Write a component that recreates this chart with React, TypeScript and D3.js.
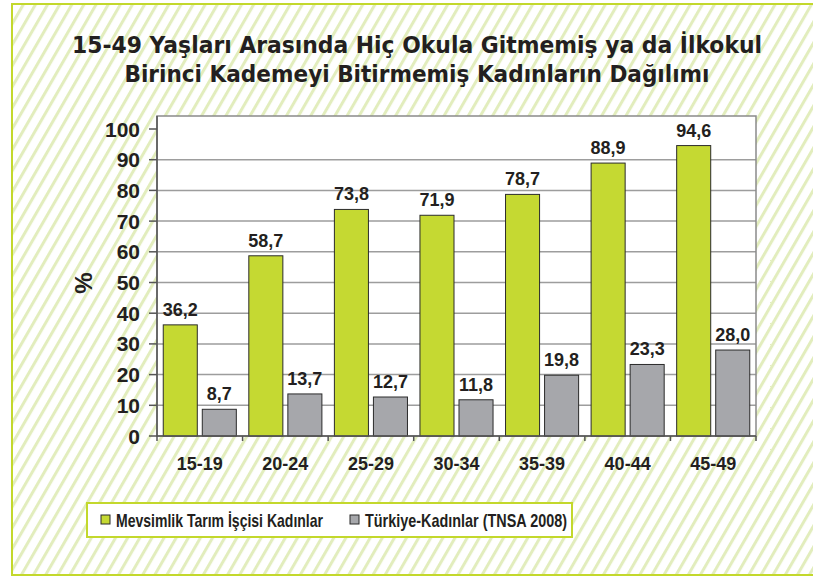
import React from 'react';
import * as d3 from 'd3';

const categories = ['15-19', '20-24', '25-29', '30-34', '35-39', '40-44', '45-49'];
const seriesNames = ['Mevsimlik Tarım İşçisi Kadınlar', 'Türkiye-Kadınlar (TNSA 2008)'];
const mevsimlik = [36.2, 58.7, 73.8, 71.9, 78.7, 88.9, 94.6];
const turkiye = [8.7, 13.7, 12.7, 11.8, 19.8, 23.3, 28.0];
const yTicks = [0, 10, 20, 30, 40, 50, 60, 70, 80, 90, 100];
const titleLines = [
  '15-49 Yaşları Arasında Hiç Okula Gitmemiş ya da İlkokul',
  'Birinci Kademeyi Bitirmemiş Kadınların Dağılımı',
];

const W = 813;
const H = 579;
const plot = { left: 157, right: 756, top: 116, bottom: 436 };
const colors = ['#c5d932', '#a6a7ab'];
const arial = '"Liberation Sans", Arial, sans-serif';

const fmt = (v: number) => v.toFixed(1).replace('.', ',');

export default function App() {
  const x = d3.scaleBand().domain(categories).range([plot.left, plot.right]).padding(0);
  const inner = d3
    .scaleBand()
    .domain(['0', '1'])
    .range([0, x.bandwidth()])
    .paddingInner(0.128)
    .paddingOuter(0.16);
  const y = d3.scaleLinear().domain([0, 100]).range([plot.bottom, 129]);

  const series = [mevsimlik, turkiye];

  return (
    <svg
      width={W}
      height={H}
      style={{ position: 'absolute', left: 0, top: 0, display: 'block', background: '#fff' }}
    >
      <defs>
        <pattern
          id="stripes"
          width="10.5"
          height="10.5"
          patternUnits="userSpaceOnUse"
          patternTransform="rotate(30)"
        >
          <rect width="10.5" height="10.5" fill="#fff" />
          <rect x="0" width="3" height="10.5" fill="#e2edbd" />
        </pattern>
      </defs>

      {/* frame with hatched background */}
      <rect x={12} y={4} width={W} height={571} fill="url(#stripes)" stroke="#c3d82c" strokeWidth={2} />

      {/* title */}
      {titleLines.map((t, i) => (
        <text
          key={i}
          x={417}
          y={53 + i * 29}
          textAnchor="middle"
          fontFamily="Verdana, Tahoma, 'DejaVu Sans', sans-serif"
          fontWeight="bold"
          fontSize={23}
          fill="#231f20"
          textLength={i === 0 ? 690 : 585}
          lengthAdjust="spacingAndGlyphs"
        >
          {t}
        </text>
      ))}

      {/* plot area */}
      <rect
        x={plot.left}
        y={plot.top}
        width={plot.right - plot.left}
        height={plot.bottom - plot.top}
        fill="#fff"
      />
      {yTicks
        .filter(t => t > 0 && t < 100)
        .map(t => (
          <line
            key={t}
            x1={plot.left}
            x2={plot.right}
            y1={y(t)}
            y2={y(t)}
            stroke="#9d9d9d"
            strokeWidth={1.5}
          />
        ))}
      <rect
        x={plot.left}
        y={plot.top}
        width={plot.right - plot.left}
        height={plot.bottom - plot.top}
        fill="none"
        stroke="#8a8a8a"
        strokeWidth={1.5}
      />

      {/* bars */}
      {categories.map((c, i) =>
        series.map((s, j) => {
          const bx = (x(c) as number) + (inner(String(j)) as number);
          return (
            <rect
              key={c + j}
              x={bx}
              y={y(s[i])}
              width={inner.bandwidth()}
              height={y(0) - y(s[i])}
              fill={colors[j]}
              stroke="#2b2b2b"
              strokeWidth={1}
            />
          );
        })
      )}

      {/* data labels */}
      {categories.map((c, i) =>
        series.map((s, j) => (
          <text
            key={'l' + c + j}
            x={(x(c) as number) + (inner(String(j)) as number) + inner.bandwidth() / 2}
            y={y(s[i]) - 9}
            textAnchor="middle"
            fontFamily={arial}
            fontWeight="bold"
            fontSize={18}
            fill="#231f20"
          >
            {fmt(s[i])}
          </text>
        ))
      )}

      {/* y axis */}
      <line x1={plot.left} x2={plot.left} y1={plot.top} y2={plot.bottom} stroke="#555" strokeWidth={1.5} />
      {yTicks.map(t => (
        <g key={t}>
          <line x1={149} x2={plot.left} y1={y(t)} y2={y(t)} stroke="#555" strokeWidth={1.5} />
          <text
            x={140}
            y={y(t)}
            dy="0.36em"
            textAnchor="end"
            fontFamily={arial}
            fontWeight="bold"
            fontSize={21}
            fill="#231f20"
          >
            {t}
          </text>
        </g>
      ))}
      <text
        transform="translate(92,283) rotate(-90)"
        textAnchor="middle"
        fontFamily={arial}
        fontWeight="bold"
        fontSize={24}
        fill="#231f20"
      >
        %
      </text>

      {/* x axis */}
      <line x1={plot.left} x2={plot.right} y1={plot.bottom} y2={plot.bottom} stroke="#555" strokeWidth={1.5} />
      {categories.map((c, i) => (
        <g key={c}>
          <line
            x1={x(c) as number}
            x2={x(c) as number}
            y1={plot.bottom}
            y2={plot.bottom + 5}
            stroke="#555"
            strokeWidth={1.5}
          />
          {i === categories.length - 1 && (
            <line x1={plot.right} x2={plot.right} y1={plot.bottom} y2={plot.bottom + 5} stroke="#555" strokeWidth={1.5} />
          )}
          <text
            x={(x(c) as number) + x.bandwidth() / 2}
            y={470}
            textAnchor="middle"
            fontFamily={arial}
            fontWeight="bold"
            fontSize={18}
            fill="#231f20"
          >
            {c}
          </text>
        </g>
      ))}

      {/* legend */}
      <rect x={87} y={503} width={485} height={34} fill="#fff" stroke="#c3d82c" strokeWidth={2} />
      {seriesNames.map((n, j) => {
        const lx = j === 0 ? 101 : 350;
        return (
          <g key={n}>
            <rect x={lx} y={515} width={9} height={9} fill={colors[j]} stroke="#2b2b2b" strokeWidth={1} />
            <text
              x={lx + 15}
              y={527}
              fontFamily={arial}
              fontWeight="bold"
              fontSize={19}
              fill="#231f20"
              textLength={j === 0 ? 207 : 202}
              lengthAdjust="spacingAndGlyphs"
            >
              {n}
            </text>
          </g>
        );
      })}
    </svg>
  );
}
